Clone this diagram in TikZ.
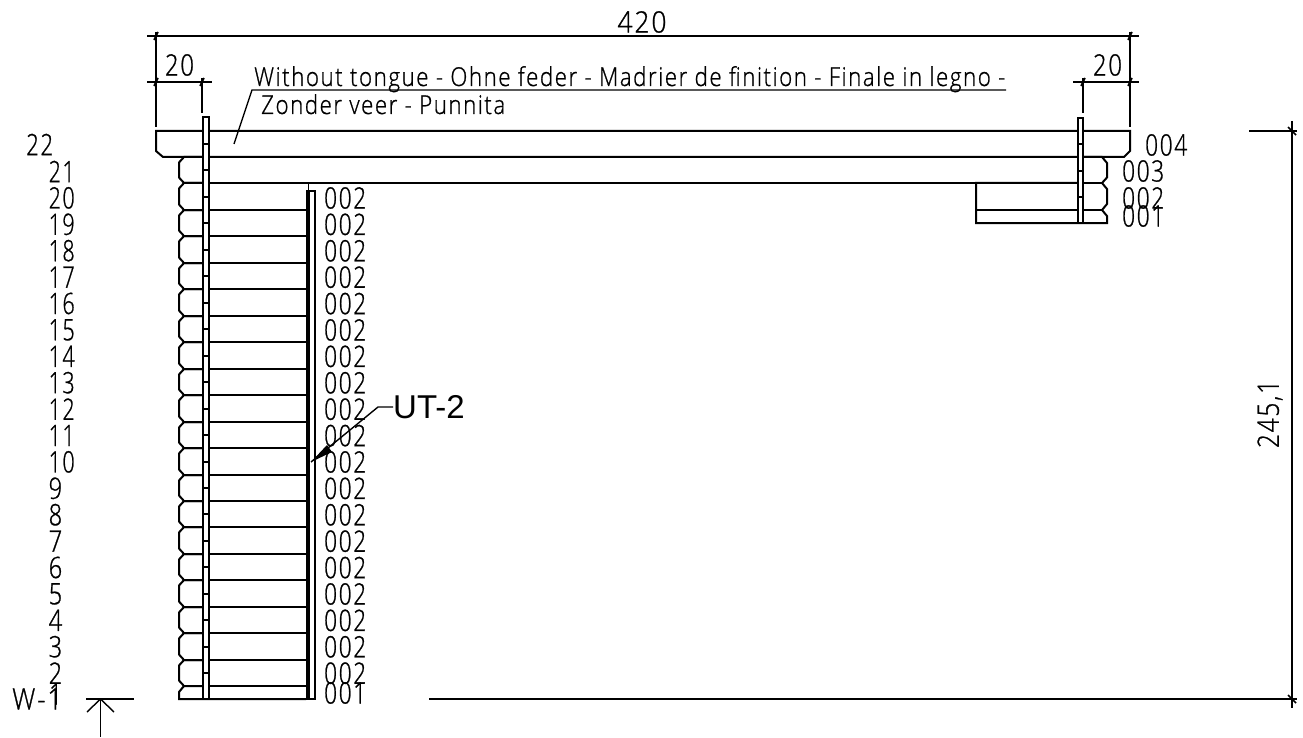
\documentclass[tikz,border=0pt]{standalone}
\usepackage{fontspec}
\setmainfont[FakeBold=0.9,FakeStretch=0.85,LetterSpace=6]{Open Sans Light}
\newfontfamily\arialfont{Liberation Sans}
\tikzset{
  thin line/.style={line width=1.4pt,black},
  heavy/.style={line width=2pt,black},
  oblique/.style={line width=1.6pt,black},
  lbl/.style={inner sep=0pt,font=\fontsize{29.5}{29.5}\selectfont,black},
  txt/.style={inner sep=0pt,font=\fontsize{26}{26}\selectfont,anchor=base west,black},
}
\newcommand{\fitw}[2]{\resizebox{#1pt}{\height}{#2}}
\newcommand{\dimtick}[2]{\draw[oblique] (#1-2,#2+4) -- (#1+2,#2-4);}
\begin{document}
\begin{tikzpicture}[x=1pt,y=-1pt]
\useasboundingbox (0,0) rectangle (1303,738);
\fill[white] (0,0) rectangle (1303,738);
% dimension lines
\draw[thin line] (147,36) -- (1139,36);
\draw[thin line] (156,32) -- (156,127);
\draw[thin line] (1130,32) -- (1130,127);
\draw[thin line] (147,82) -- (212,82);
\draw[thin line] (202,78) -- (202,113);
\draw[thin line] (1073,82) -- (1139,82);
\draw[thin line] (1083,78) -- (1083,113);
\dimtick{156}{36}\dimtick{1130}{36}\dimtick{156}{82}\dimtick{202}{82}\dimtick{1083}{82}\dimtick{1130}{82}
\node[lbl] (d420) at (642,22) {\fitw{49}{420}};
\node[lbl] (d20l) at (179.5,65) {\fitw{29}{20}};
\node[lbl] (d20r) at (1107.5,65) {\fitw{29}{20}};
% note
\coordinate (ldA) at (234,144);
\coordinate (ldB) at (252,90);
\coordinate (ldC) at (1006,90);
\draw[thin line] (ldA) -- (ldB) -- (ldC);
\node[txt] (note1) at (254,86) {\fitw{751}{Without tongue - Ohne feder - Madrier de finition - Finale in legno -}};
\node[txt] (note2) at (261,114) {\fitw{244}{Zonder veer - Punnita}};
% beams
\draw[heavy] (156,131) -- (1130,131) -- (1130,151) -- (1124,157) -- (163,157) -- (156,151) -- cycle;
\draw[heavy] (209,183) -- (1077,183);
% right short wall
\draw[heavy] (1083,157) -- (1102,157) -- (1107,163) -- (1107,177.5) -- (1102,183) -- (1107,189) -- (1107,204) -- (1102,210) -- (1107,216) -- (1107,223) -- (976,223) -- (976,183) -- (1077,183);
\draw[heavy] (976,210) -- (1102,210);
\draw[heavy] (1083,183) -- (1102,183);
\draw[heavy,fill=white] (1077.5,118) rectangle (1083,223);
\foreach \y in {144,171,197} \draw[line width=2.5pt,black] (1077,\y) -- (1083,\y);
% left wall logs
\foreach \k in {0,...,19} {
  \pgfmathsetmacro{\ya}{round(157+26.46*\k)}
  \pgfmathsetmacro{\yb}{round(157+26.46*(\k+1))}
  \draw[heavy] (202,\ya) -- (184,\ya) -- (179,\ya+5.5) -- (179,\yb-5.5) -- (184,\yb) -- (202,\yb);
  \ifnum\k>0 \draw[heavy] (209,\ya) -- (306,\ya); \fi
}
\draw[heavy] (209,686) -- (306,686);
\draw[heavy] (184,686) -- (179,692) -- (179,699) -- (306,699);
\draw[heavy,fill=white] (203,117) rectangle (208.5,699);
\foreach \k in {0,...,20} {
  \pgfmathsetmacro{\yt}{round(144+26.46*\k)}
  \draw[line width=2.5pt,black] (202,\yt) -- (208.5,\yt);
}
% thin board
\draw[heavy,line width=1.4pt] (308.5,183) -- (308.5,191);
\draw[line width=3.6pt,black] (308,191) -- (308,699);
\draw[heavy] (306,191) -- (315,191) -- (315,699) -- (306,699);
% level numbers
\node[lbl,anchor=west] (n22) at (26,144.5) {\fitw{27}{22}};
\foreach \n [count=\i from 0] in {21,20,19,18,17,16,15,14,13,12,11,10} {
  \pgfmathsetmacro{\yy}{171.5+26.4*\i}
  \node[lbl,anchor=west] (n\n) at (48.5,\yy) {\fitw{26}{\n}};
}
\foreach \n [count=\i from 12] in {9,8,7,6,5,4,3,2} {
  \pgfmathsetmacro{\yy}{171.5+26.4*\i}
  \node[lbl,anchor=west] (n\n) at (48.5,\yy) {\fitw{13.5}{\n}};
}
\node[lbl,anchor=west] (n1) at (49,694) {\fitw{13}{1}};
\node[lbl,anchor=west] (wname) at (12,699) {\fitw{50}{W-1}};
% section mark
\coordinate (secL) at (86,699);
\coordinate (secR) at (134,699);
\coordinate (secT) at (100.5,699);
\coordinate (secB) at (100.5,737);
\draw[thin line] (secL) -- (secR);
\draw[thin line] (secT) -- (secB);
\draw[thin line] (87,712) -- (secT) -- (114,712);
% part labels
\foreach \i in {0,...,18} {
  \pgfmathsetmacro{\yy}{198+26.4*\i}
  \node[lbl,anchor=west] (p\i) at (324,\yy) {\fitw{42}{002}};
}
\node[lbl,anchor=west] (p19) at (324,693) {\fitw{42}{001}};
\node[lbl,anchor=west] (r4) at (1145,145) {\fitw{42}{004}};
\node[lbl,anchor=west] (r3) at (1122,171) {\fitw{42}{003}};
\node[lbl,anchor=west] (r2) at (1122,198) {\fitw{42}{002}};
\node[lbl,anchor=west] (r1) at (1122,216) {\fitw{42}{001}};
% UT-2
\node[inner sep=0pt,anchor=west,font=\arialfont\fontsize{33}{33}\selectfont] (ut) at (393,407) {UT-2};
\coordinate (utA) at (311,462);
\coordinate (utB) at (378,407);
\draw[thin line] (utA) -- (utB) -- (ut.west);
\fill[black] (utA) -- (327,445) -- (332,452) -- cycle;
% overall height dimension
\coordinate (hT) at (1292,121);
\coordinate (hB) at (1292,708);
\draw[thin line] (1249,131) -- (1297,131);
\draw[thin line] (429,699) -- (1297,699);
\draw[thin line] (hT) -- (hB);
\draw[oblique] (1288,127) -- (1296,135);
\draw[oblique] (1288,695) -- (1296,703);
\node[lbl,rotate=90] (hd) at (1270,414) {\fitw{68}{245,1}};
\end{tikzpicture}
\end{document}
